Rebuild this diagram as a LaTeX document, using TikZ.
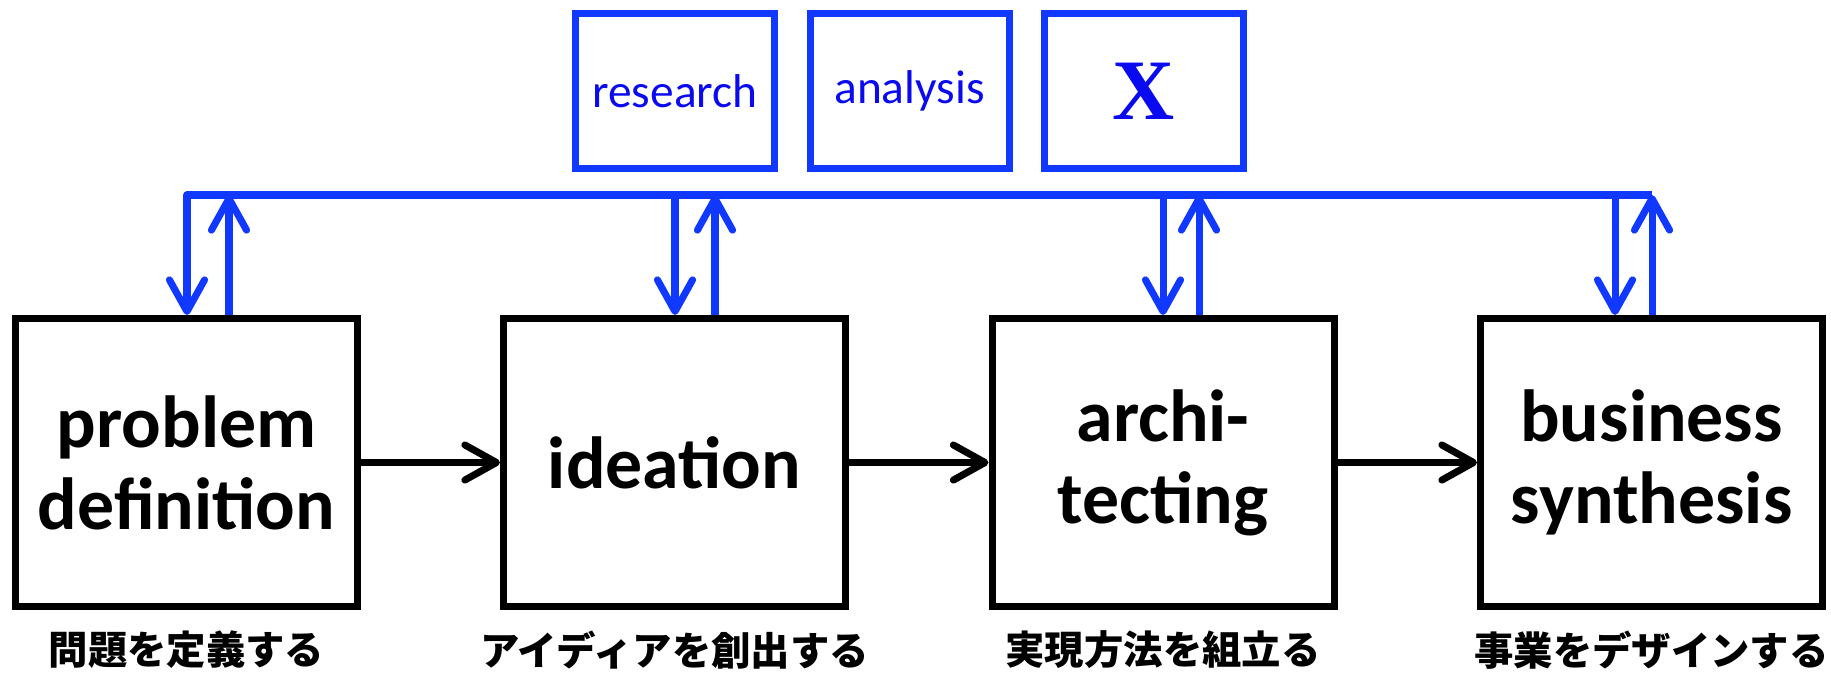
\documentclass[tikz,border=0pt]{standalone}
\usepackage{fontspec}
\setmainfont{Carlito}
\newfontfamily\jpfont{Noto Sans CJK JP}
\newfontfamily\xfont{Liberation Serif}
\usepackage{tikz}
\usetikzlibrary{positioning}
\usetikzlibrary{arrows.meta}
\definecolor{lineblue}{RGB}{16,56,255}
\definecolor{txtblue}{RGB}{10,10,240}
\tikzset{
  stagebox/.style={draw, line width=2pt, minimum width=3.42cm, minimum height=2.88cm, inner sep=0pt, align=center, font=\bfseries\fontsize{21}{23.3}\selectfont},
  toolbox/.style={draw=lineblue, line width=2pt, minimum width=1.99cm, minimum height=1.55cm, inner sep=0pt, text=txtblue, font=\fontsize{13.5}{16}\selectfont},
  jplabel/.style={inner sep=0pt, font=\jpfont\bfseries\fontsize{11.2}{13}\selectfont},
  flow/.style={line width=2pt, -{Straight Barb[length=9pt,width=10pt,round]}},
  link/.style={flow, lineblue, line join=round}
}
\begin{document}
\begin{tikzpicture}
          \useasboundingbox (0,0) rectangle (18.31,6.74);
          \node[stagebox] (stg0) at (1.865,2.115){problem\\definition};
          \node[stagebox] (stg1) at (6.745,2.115){ideation};
          \node[stagebox] (stg2) at (11.63,2.115){archi-\\tecting};
          \node[stagebox] (stg3) at (16.515,2.115){business\\synthesis};
          \node[toolbox] (tl0) at (6.75,5.83){research};
          \node[toolbox] (tl1) at (9.095,5.83){analysis};
          \node[toolbox, font=\xfont\bfseries\fontsize{24.5}{28}\selectfont] (tl2) at (11.435,5.83){X};
          \node[jplabel] (jp0) at (1.865,0.24){問題を定義する};
          \node[jplabel] (jp1) at (6.745,0.24){アイディアを創出する};
          \node[jplabel] (jp2) at (11.63,0.24){実現方法を組立る};
          \node[jplabel] (jp3) at (16.515,0.24){事業をデザインする};
          \coordinate (dn0) at (1.87,4.79);
          \coordinate (dn1) at (6.75,4.79);
          \coordinate (dn2) at (11.63,4.79);
          \coordinate (dn3) at (16.15,4.79);
          \coordinate (up0) at (2.29,4.79);
          \coordinate (up1) at (7.15,4.79);
          \coordinate (up2) at (11.99,4.79);
          \coordinate (up3) at (16.52,4.79);
          \draw[link](up3) -- (dn0) -- (dn0 |- stg0.north);
          \foreach \i in {1,2,3}
            \draw[link](dn\i) -- (dn\i |- stg\i.north);
          \foreach \i in {0,...,3}
            \draw[link](up\i |- stg\i.north) -- (up\i);
          \foreach \i/\j in {0/1,1/2,2/3}
            \draw[flow](stg\i) -- (stg\j);
        \end{tikzpicture}
\end{document}
